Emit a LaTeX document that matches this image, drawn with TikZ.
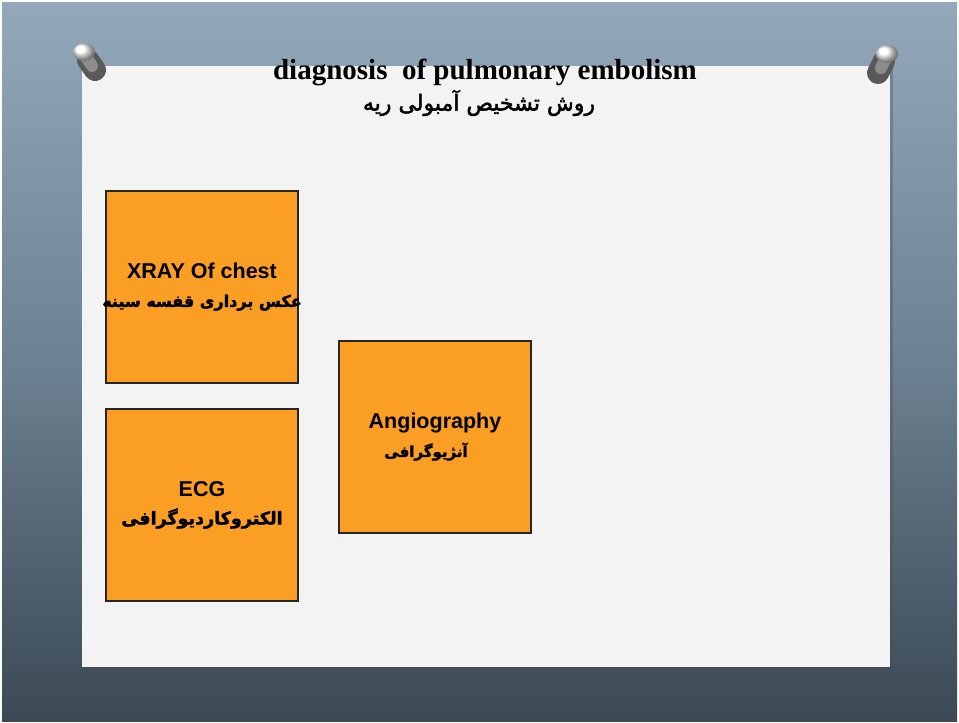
\documentclass[tikz,border=0pt]{standalone}
\usepackage{fontspec}
\setmainfont{Liberation Sans}
\newfontfamily\titlefont{Liberation Serif}
\newfontfamily\fa[Script=Arabic,FakeBold=2]{DejaVu Sans}
\TeXXeTstate=1
\definecolor{boxorange}{HTML}{FA9F23}
\definecolor{paper}{HTML}{F3F3F3}
\definecolor{bgtop}{HTML}{93A8BA}
\definecolor{bgmid}{HTML}{6C8192}
\definecolor{bgbot}{HTML}{3C4955}
\tikzset{
  box/.style={draw=black!85, line width=1.1pt, fill=boxorange, minimum width=192pt, minimum height=192pt, inner sep=0pt, align=center, font=\fontsize{21.5}{28}\selectfont\bfseries},
  pinbody/.style={line width=22pt, line cap=round, draw=black!65},
}
\begin{document}
\begin{tikzpicture}[x=1pt,y=-1pt]
\useasboundingbox (0,0) rectangle (959,723);
\fill[white] (0,0) rectangle (959,723);
\shade[top color=bgtop, bottom color=bgbot, middle color=bgmid] (2,2) rectangle (957,721);
% paper shadow
\fill[black!70, opacity=0.35] (84,69) rectangle (893,670);
\fill[paper] (82,66) rectangle (890,667);
% pins
\draw[pinbody] (88,60) -- (95,70);
\draw[line width=12pt, line cap=round, draw=black!45] (86,57) -- (92,66);
\shade[ball color=white, draw=none] (84,52) ellipse (11 and 9);
\draw[pinbody] (884,61) -- (878,73);
\draw[line width=12pt, line cap=round, draw=black!45] (886,58) -- (881,68);
\shade[ball color=white, draw=none] (887,54) ellipse (11 and 9);
% title
\node (title) at (485,72) {\titlefont\bfseries\fontsize{29}{30}\selectfont diagnosis\ \ of pulmonary embolism};
\node (titlefa) at (479,103) {\fa\fontsize{22}{24}\selectfont\beginR روش تشخیص آمبولی ریه\endR};
% boxes
\node[box] (xray) at (202,287) {XRAY Of chest\\\makebox[180pt]{\fa\fontsize{16}{20}\selectfont\beginR عکس برداری قفسه سینه\endR}};
\node[box] (ecg) at (202,505) {ECG\\{\fa\fontsize{17.5}{20}\selectfont\beginR الکتروکاردیوگرافی\endR}};
\node[box] (angio) at (435,437) {Angiography\\{\fa\fontsize{15}{20}\selectfont\beginR آنژیوگرافی\endR}\hspace*{18pt}};
\end{tikzpicture}
\end{document}
